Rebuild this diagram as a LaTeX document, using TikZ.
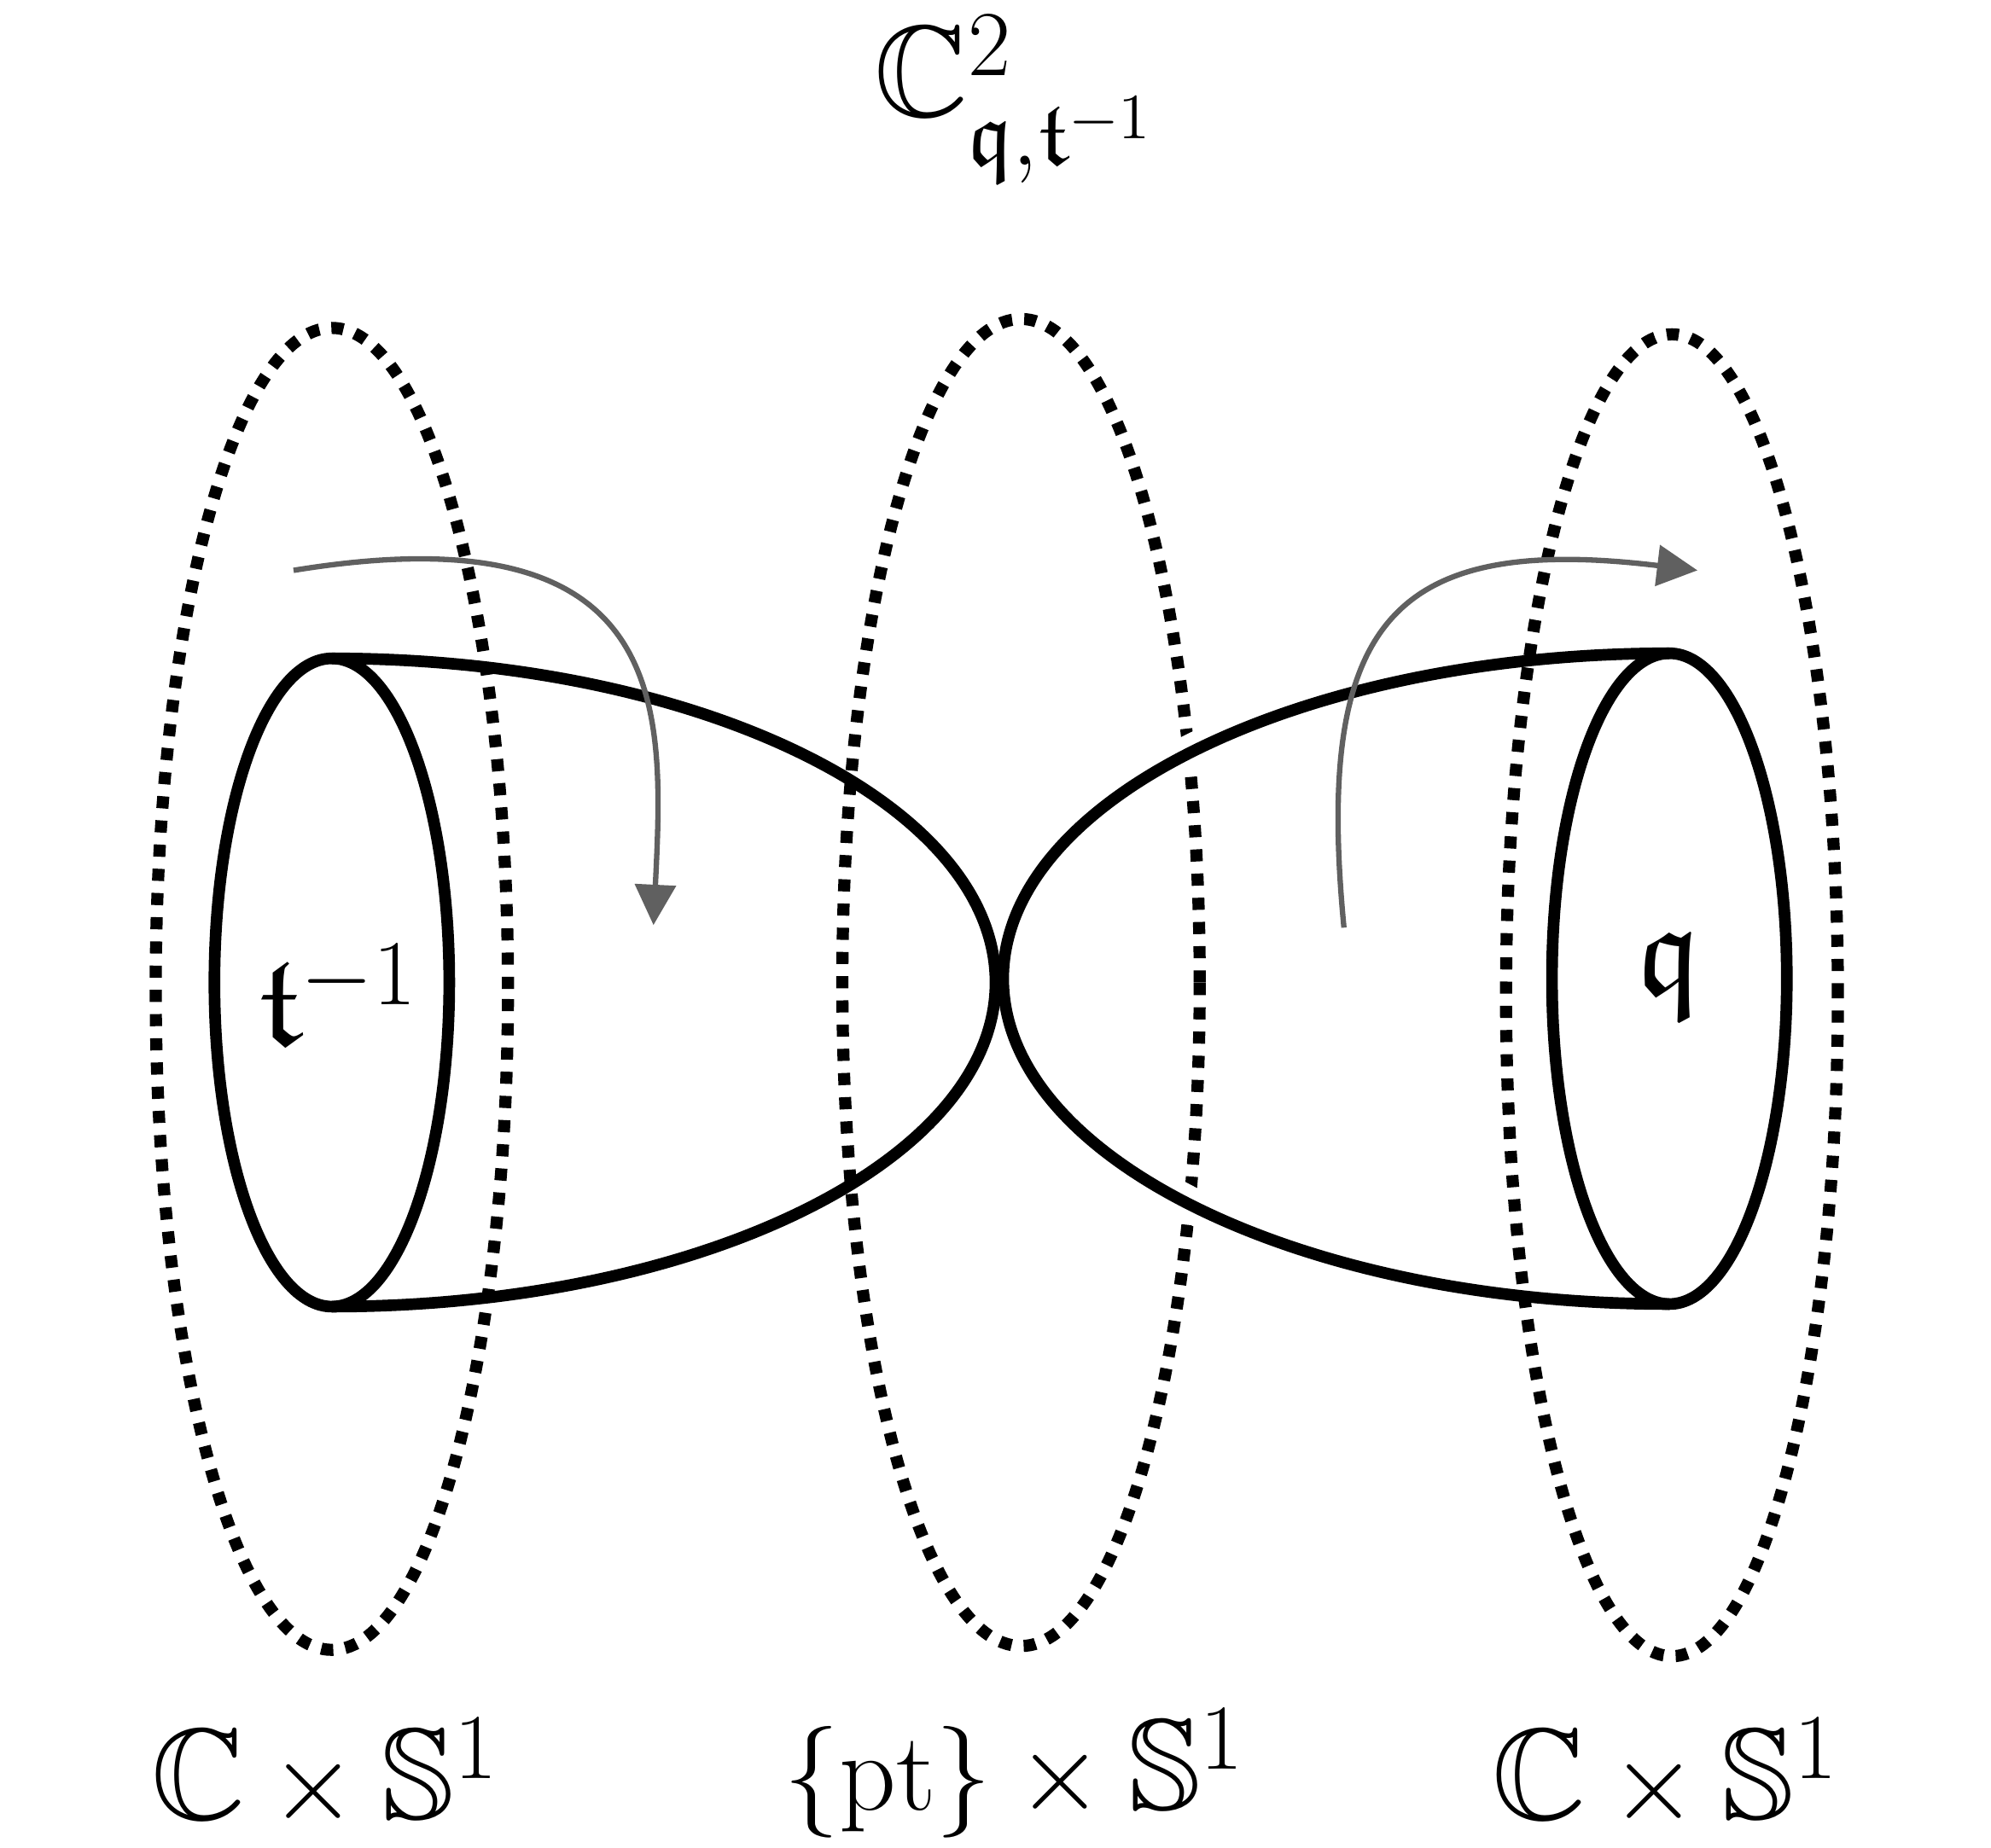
\documentclass[tikz,border=0pt]{standalone}
\usepackage{amsmath,amssymb}
\usepackage{tikz}
\usetikzlibrary{arrows.meta}

\begin{document}
\begin{tikzpicture}[
    rim/.style={line width=2.6pt},
    ring/.style={line width=2.7pt,dash pattern=on 2.7pt off 2.7pt},
    flow/.style={line width=1.2pt,gray!75!black,-{Triangle[length=9pt,width=9pt]}},
    lbl/.style={font=\fontsize{29}{34}\selectfont}]
    \useasboundingbox (0,0) rectangle (15.6,14.48);

    % dotted circles
    \draw[ring] (2.60,6.73) ellipse (1.38cm and 5.18cm);
    \draw[ring] (8.00,6.78) ellipse (1.40cm and 5.20cm);
    \draw[ring] (13.10,6.68) ellipse (1.30cm and 5.18cm);

    % left cap
    \draw[rim] (2.60,6.78) ellipse (0.92cm and 2.54cm);
    \draw[rim] (2.60,9.32) arc (90:-90:5.20cm and 2.54cm);

    % right cap (gaps where it hides the middle circle)
    \draw[white,line width=8pt] (13.08,6.81) ++(130:5.22cm and 2.55cm) arc (130:146:5.22cm and 2.55cm);
    \draw[white,line width=8pt] (13.08,6.81) ++(214:5.22cm and 2.55cm) arc (214:230:5.22cm and 2.55cm);
    \draw[rim] (13.08,6.81) ellipse (0.92cm and 2.55cm);
    \draw[rim] (13.08,9.36) arc (90:270:5.22cm and 2.55cm);

    % rotation arrows
    \coordinate (la) at (2.30,10.01);
    \coordinate (lb) at (5.12,7.23);
    \coordinate (ra) at (10.53,7.21);
    \coordinate (rb) at (13.30,10.01);
    \draw[flow] (la) .. controls (5.30,10.50) and (5.20,8.90) .. (lb);
    \draw[flow] (ra) .. controls (10.30,9.60) and (10.90,10.30) .. (rb);

    % labels
    \node[lbl] (top) at (7.95,13.70) {$\mathbb{C}^2_{\mathfrak{q},\mathfrak{t}^{-1}}$};
    \node[lbl] (tinv) at (2.65,6.68) {$\mathfrak{t}^{-1}$};
    \node[lbl] (q) at (13.08,6.83) {$\mathfrak{q}$};
    \node[lbl] (left) at (2.55,0.58) {$\mathbb{C}\times\mathbb{S}^1$};
    \node[lbl] (mid) at (7.95,0.58) {$\{\mathrm{pt}\}\times\mathbb{S}^1$};
    \node[lbl] (right) at (13.05,0.58) {$\mathbb{C}\times\mathbb{S}^1$};
\end{tikzpicture}
\end{document}
